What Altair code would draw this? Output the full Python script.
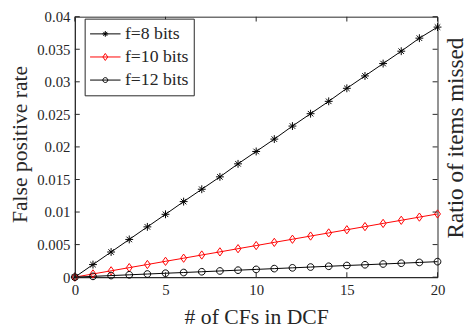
import altair as alt
import pandas as pd

# ---- data ----
n_cfs = list(range(21))
f8 = [0, 0.00193, 0.00386, 0.00579, 0.00772, 0.00965, 0.0116, 0.0135, 0.0154, 0.0174, 0.0193,
      0.0212, 0.0232, 0.0251, 0.0270, 0.0290, 0.0309, 0.0328, 0.0347, 0.0367, 0.0384]
f10 = [0, 0.00049, 0.00097, 0.00146, 0.00194, 0.00243, 0.00291, 0.0034, 0.00388, 0.00437, 0.00485,
       0.00534, 0.00582, 0.00631, 0.00679, 0.00728, 0.00776, 0.00825, 0.00873, 0.00922, 0.0097]
f12 = [0, 0.00012, 0.00024, 0.00036, 0.00048, 0.0006, 0.00071, 0.00083, 0.00095, 0.00107, 0.00119,
       0.00131, 0.00143, 0.00155, 0.00167, 0.00179, 0.0019, 0.00202, 0.00214, 0.00226, 0.00238]
series_names = ["f=8 bits", "f=10 bits", "f=12 bits"]
series_colors = ["#000000", "#ff0000", "#000000"]
y_ticks = [0, 0.005, 0.01, 0.015, 0.02, 0.025, 0.03, 0.035, 0.04]
x_ticks = [0, 5, 10, 15, 20]

rows = []
for name, vals in zip(series_names, [f8, f10, f12]):
    for xv, yv in zip(n_cfs, vals):
        rows.append({"n": xv, "rate": yv, "series": name})
df = pd.DataFrame(rows)

# marker glyphs (unit coordinates) for plot and legend
marker_paths = [
    "M-1,0L1,0M0,-1L0,1M-0.7,-0.7L0.7,0.7M-0.7,0.7L0.7,-0.7",
    "M0,-1.05L0.75,0L0,1.05L-0.75,0Z",
    "M0.85,0A0.85,0.85,0,1,1,-0.85,0A0.85,0.85,0,1,1,0.85,0Z",
]
legend_paths = [
    "M-1,0L1,0M-0.19,0L0.19,0M0,-0.19L0,0.19M-0.13,-0.13L0.13,0.13M-0.13,0.13L0.13,-0.13",
    "M-1,0L1,0M0,-0.23L0.16,0L0,0.23L-0.16,0Z",
    "M-1,0L1,0M0.16,0A0.16,0.16,0,1,1,-0.16,0A0.16,0.16,0,1,1,0.16,0Z",
]

AX = "#262626"
FONT = "Liberation Serif, DejaVu Serif, serif"
W, H = 369, 265

xscale = alt.Scale(domain=[0, 20], nice=False)
yscale = alt.Scale(domain=[0, 0.04], nice=False)

x_axis = alt.Axis(
    values=x_ticks, title="# of CFs in DCF", tickSize=0, labelPadding=6,
    labelFlush=False, labelOverlap=False, labelFont=FONT, titleFont=FONT, titleFontSize=22,
    titleX=W / 2, titleY=47, titleBaseline="alphabetic", titleAlign="center")
y_axis = alt.Axis(
    values=y_ticks, format="~g", title="False positive rate", tickSize=0, labelPadding=5,
    labelFlush=False, labelOverlap=False, labelFont=FONT, titleFont=FONT, titleFontSize=22,
    titleAngle=270, titleX=-49, titleY=129.5, titleBaseline="alphabetic", titleAlign="center")
x_enc = alt.X("n:Q", scale=xscale, axis=x_axis)
y_enc = alt.Y("rate:Q", scale=yscale, axis=y_axis)

color_enc = alt.Color("series:N", scale=alt.Scale(domain=series_names, range=series_colors), legend=None)

base = alt.Chart(df)
lines = base.mark_line(strokeWidth=1).encode(x=x_enc, y=y_enc, color=color_enc, detail="series:N")
points = base.mark_point(filled=False, size=64, strokeWidth=1, opacity=1).encode(
    x=x_enc, y=y_enc, color=color_enc,
    shape=alt.Shape("series:N", scale=alt.Scale(domain=series_names, range=marker_paths), legend=None))

ydf = pd.DataFrame({"rate": y_ticks})
xdf = pd.DataFrame({"n": x_ticks})
tick_style = dict(thickness=1, size=5, color=AX, opacity=1)
left_ticks = alt.Chart(ydf).mark_tick(orient="horizontal", xOffset=2.5, **tick_style).encode(
    x=alt.XDatum(0, scale=xscale, axis=x_axis), y=y_enc)
right_ticks = alt.Chart(ydf).mark_tick(orient="horizontal", xOffset=-2.5, **tick_style).encode(
    x=alt.XDatum(20, scale=xscale, axis=x_axis), y=y_enc)
bottom_ticks = alt.Chart(xdf).mark_tick(orient="vertical", yOffset=-2.5, **tick_style).encode(
    x=x_enc, y=alt.YDatum(0, scale=yscale, axis=y_axis))
top_ticks = alt.Chart(xdf).mark_tick(orient="vertical", yOffset=2.5, **tick_style).encode(
    x=x_enc, y=alt.YDatum(0.04, scale=yscale, axis=y_axis))

inner = alt.layer(lines, points, left_ticks, right_ticks, bottom_ticks, top_ticks)

legend_def = alt.Legend(
    title=None, orient="none", legendX=10, legendY=2,
    symbolSize=961, symbolStrokeWidth=1, symbolOpacity=1, symbolFillColor="transparent",
    clipHeight=21, rowPadding=2.5, labelOffset=4, padding=5,
    strokeColor=AX, fillColor="white", labelFont=FONT, labelFontSize=18, labelColor=AX)

legend_layer = base.mark_point(filled=False, opacity=0).encode(
    x=x_enc,
    y=alt.Y("rate:Q", scale=yscale, axis=alt.Axis(
        orient="right", labels=False, ticks=False, domain=False, grid=False,
        title="Ratio of items missed", titleFont=FONT, titleFontSize=23.5, titleAngle=270,
        titleX=25, titleY=123, titleBaseline="alphabetic", titleAlign="center")),
    color=alt.Color("series:N", scale=alt.Scale(domain=series_names, range=series_colors), legend=legend_def),
    shape=alt.Shape("series:N", scale=alt.Scale(domain=series_names, range=legend_paths), legend=legend_def),
)

chart = alt.layer(inner, legend_layer).resolve_scale(
    y="independent", shape="independent", color="independent"
).properties(
    width=W, height=H,
    autosize=alt.AutoSizeParams(type="none"),
    padding={"left": 68, "top": 6, "right": 30, "bottom": 54},
).configure_view(stroke=AX, strokeWidth=1).configure_axis(
    labelFontSize=15, labelColor=AX, titleFontWeight="normal", titleColor=AX,
    domainColor=AX, domainWidth=1, grid=False
)

chart.save("out.html", embed_options={"renderer": "svg", "actions": False})
